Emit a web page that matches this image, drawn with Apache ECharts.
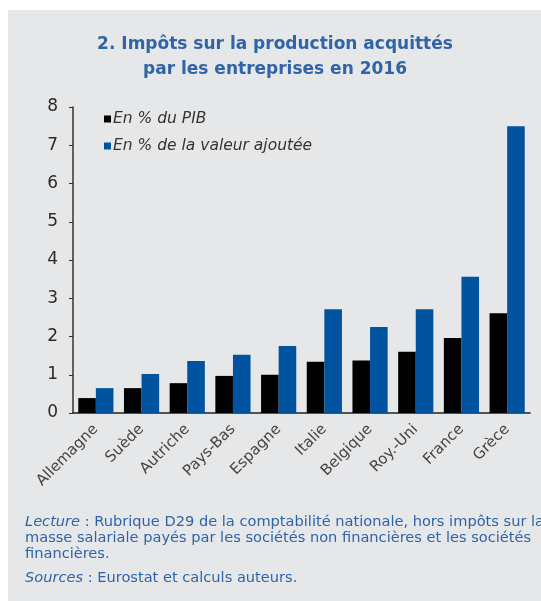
<!DOCTYPE html>
<html><head><meta charset="utf-8">
<script src="https://cdn.jsdelivr.net/npm/echarts@6/dist/echarts.min.js"></script>
<style>html,body{margin:0;padding:0;background:#fff;}#c{width:541px;height:601px;}</style>
</head><body><div id="c"></div>
<script>
const categories = ['Allemagne','Suède','Autriche','Pays-Bas','Espagne','Italie','Belgique','Roy.-Uni','France','Grèce'];
const pibValues = [0.39,0.65,0.78,0.97,1.0,1.34,1.37,1.60,1.96,2.61];
const vaValues = [0.65,1.02,1.36,1.52,1.75,2.71,2.25,2.71,3.56,7.50];
const yTicks = [0,1,2,3,4,5,6,7,8];
const seriesNames = ['En % du PIB','En % de la valeur ajoutée'];

const FF = '"DejaVu Sans", "Liberation Sans", Arial, sans-serif';
const chart = echarts.init(document.getElementById('c'), null, {renderer:'canvas'});
const blue = '#00539f';
const textBlue = '#2f64a8';
chart.setOption({
  backgroundColor: '#ffffff',
  animation: false,
  graphic: [
    {type:'rect', left:8, top:10, shape:{width:533, height:591}, style:{fill:'#e6e7e9'}, z:-10},
    {type:'text', x:275, y:32, style:{text:'2. Impôts sur la production acquittés\npar les entreprises en 2016', font:'bold 17px ' + FF, fill:textBlue, align:'center', verticalAlign:'top', lineHeight:25}},
    {type:'text', x:25, y:514, style:{
      text:'{i|Lecture} : Rubrique D29 de la comptabilité nationale, hors impôts sur la\nmasse salariale payés par les sociétés non financières et les sociétés\nfinancières.',
      font:'14.6px ' + FF, fill:textBlue, lineHeight:16,
      rich:{i:{fontStyle:'italic', fontSize:14.6, fontFamily:FF, fill:textBlue}}
    }},
    {type:'text', x:25, y:571, style:{
      text:'{i|Sources} : Eurostat et calculs auteurs.',
      font:'14.6px ' + FF, fill:textBlue,
      rich:{i:{fontStyle:'italic', fontSize:14.6, fontFamily:FF, fill:textBlue}}
    }}
  ],
  legend: {
    orient:'vertical', left:99, top:106, itemWidth:7, itemHeight:7, itemGap:11,
    icon:'rect',
    textStyle:{fontStyle:'italic', fontSize:15.5, color:'#333', fontFamily:FF, padding:[0,0,0,-3]},
    data: seriesNames
  },
  grid: {left:73, right:11, top:107, bottom:188, containLabel:false},
  xAxis: {
    type:'category', data:categories,
    axisLine:{show:true, lineStyle:{color:'#222', width:1.5}},
    axisTick:{show:false},
    axisLabel:{rotate:45, fontSize:15, color:'#444', margin:14, interval:0, fontFamily:FF}
  },
  yAxis: {
    type:'value', min:0, max:8, interval:1,
    axisLine:{show:true, lineStyle:{color:'#333', width:1.5}},
    axisTick:{show:true, length:4, lineStyle:{color:'#333'}},
    splitLine:{show:false},
    axisLabel:{fontSize:17, color:'#2a2a2a', margin:15, formatter: v => String(yTicks[v] ?? v), fontFamily:FF}
  },
  series: [
    {name:seriesNames[0], type:'bar', data:pibValues, itemStyle:{color:'#000'}, barGap:'0%', barCategoryGap:'23%'},
    {name:seriesNames[1], type:'bar', data:vaValues, itemStyle:{color:blue}, barGap:'0%', barCategoryGap:'23%'}
  ]
});
</script></body></html>
